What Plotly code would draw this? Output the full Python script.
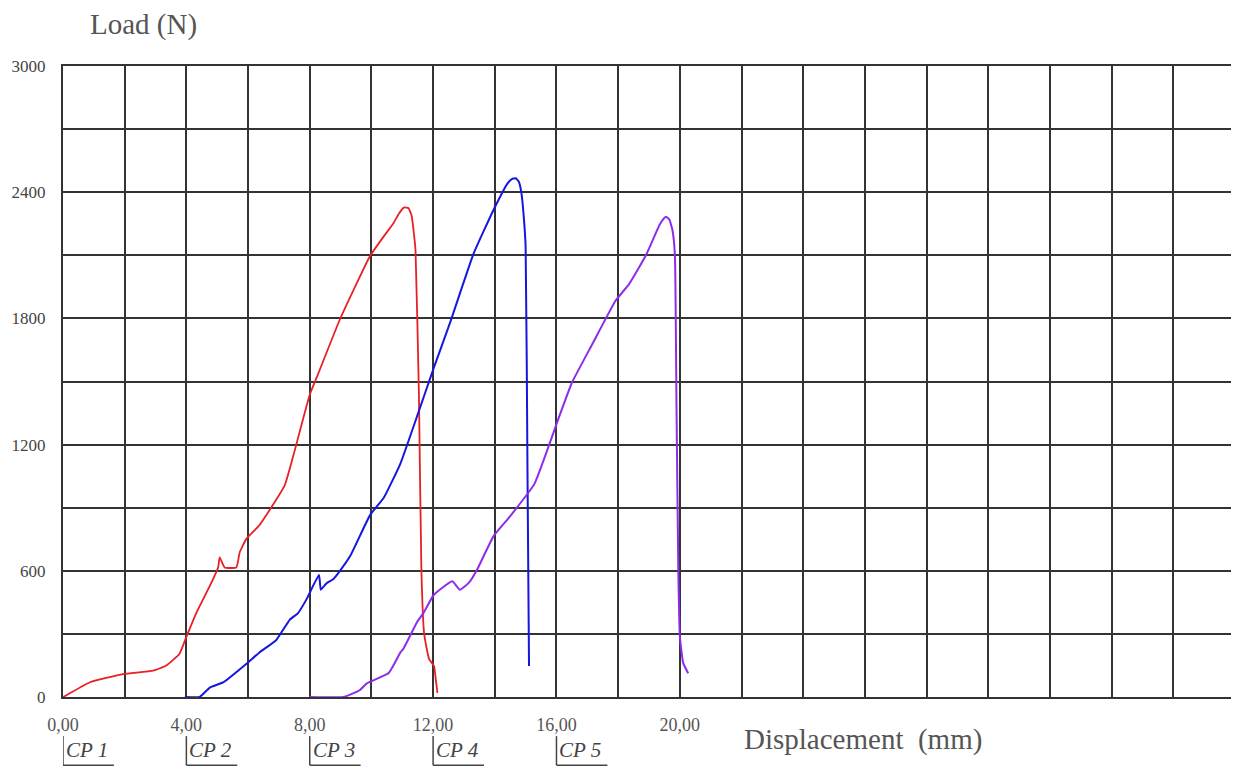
import plotly.graph_objects as go

# ---- data ----
cp1_x = [0, 0.07, 0.86, 1.95, 2.92, 3.35, 3.78, 4.0, 4.32, 4.76, 5.03, 5.08, 5.24, 5.62, 5.73, 5.95,
         6.37, 7.18, 7.46, 8.0, 8.27, 8.98, 9.96, 10.4, 10.72, 10.9, 11.05, 11.2, 11.3, 11.38, 11.43,
         11.54, 11.62, 11.71, 11.87, 12.03, 12.09, 12.14]
cp1_y = [0, 5, 69, 109, 125, 150, 206, 286, 399, 528, 616, 664, 616, 616, 688, 753,
         817, 1004, 1143, 1437, 1535, 1796, 2098, 2190, 2254, 2300, 2327, 2325, 2290, 2200, 2123,
         1437, 600, 300, 180, 147, 80, 20]

cp2_x = [3.95, 4.43, 4.76, 5.19, 5.95, 6.37, 6.91, 7.35, 7.62, 7.89, 8.30, 8.36, 8.54, 8.76, 8.98,
         9.31, 9.96, 10.40, 10.94, 11.49, 12.03, 12.55, 13.31, 13.97, 14.41, 14.55, 14.68, 14.78,
         14.86, 14.93, 15.0, 15.06, 15.11]
cp2_y = [0, 0, 45, 69, 158, 212, 270, 367, 399, 463, 580, 510, 540, 560, 600,
         670, 866, 947, 1110, 1339, 1568, 1780, 2107, 2319, 2441, 2462, 2466, 2450,
         2400, 2300, 2140, 1078, 147]

cp3_x = [8.0, 9.09, 9.62, 9.85, 10.56, 10.94, 11.04, 11.49, 11.69, 12.02, 12.62, 12.87, 13.17,
         13.42, 13.97, 14.5, 15.28, 16.07, 16.5, 17.16, 17.92, 18.36, 18.9, 19.34, 19.48, 19.56,
         19.66, 19.76, 19.84, 19.89, 19.95, 20.0, 20.11, 20.27]
cp3_y = [0, 0, 32, 65, 114, 212, 230, 359, 400, 485, 550, 510, 545,
         604, 767, 860, 1012, 1326, 1494, 1677, 1885, 1964, 2100, 2244, 2275, 2283,
         2270, 2220, 2100, 1406, 608, 289, 161, 113]

x_grid = list(range(0, 39, 2))
x_labels = {0: "0,00", 4: "4,00", 8: "8,00", 12: "12,00", 16: "16,00", 20: "20,00"}
y_grid = list(range(0, 3001, 300))
y_labels = {0: "0", 600: "600", 1200: "1200", 1800: "1800", 2400: "2400", 3000: "3000"}

cp_names = ["CP 1", "CP 2", "CP 3", "CP 4", "CP 5"]
cp_pos = [0, 4, 8, 12, 16]

series = [(cp1_x, cp1_y, "rgb(232,32,38)", 1.8),
          (cp2_x, cp2_y, "rgb(22,22,222)", 2.0),
          (cp3_x, cp3_y, "rgb(140,45,235)", 2.0)]

fig = go.Figure()
for xs, ys, col, w in series:
    fig.add_trace(go.Scatter(x=xs, y=ys, mode="lines", line=dict(color=col, width=w, shape="spline", smoothing=0.4),
                             showlegend=False, hoverinfo="skip"))

serif = "Liberation Serif, Times New Roman, serif"

fig.update_layout(
    width=1233, height=767,
    margin=dict(l=54, r=4, t=58, b=78),
    paper_bgcolor="white", plot_bgcolor="white",
    font=dict(family=serif, color="#444"),
    xaxis=dict(range=[0, 38], tickmode="array", tickvals=x_grid,
               ticktext=[x_labels.get(v, "") for v in x_grid],
               showgrid=True, gridcolor="#333", gridwidth=2,
               showline=True, linecolor="#333", linewidth=2, mirror=True,
               zeroline=False, ticks="", ticklabelstandoff=10,
               tickfont=dict(family=serif, size=18, color="#555")),
    yaxis=dict(range=[0, 3000], tickmode="array", tickvals=y_grid,
               ticktext=[y_labels.get(v, "") for v in y_grid],
               showgrid=True, gridcolor="#333", gridwidth=2,
               showline=True, linecolor="#333", linewidth=2, mirror=True,
               zeroline=False, ticks="", ticklabelstandoff=12,
               tickfont=dict(family=serif, size=17, color="#444")),
)

# axis titles
fig.add_annotation(text="Load (N)", xref="paper", yref="paper", x=0.0215, y=1.065,
                   xanchor="left", yanchor="middle", showarrow=False,
                   font=dict(family=serif, size=29, color="#555"))
fig.add_annotation(text="Displacement  (mm)", xref="paper", yref="paper", x=0.579, y=-0.068,
                   xanchor="left", yanchor="middle", showarrow=False,
                   font=dict(family=serif, size=29, color="#555"))

# CP labels with bracket
for name, p in zip(cp_names, cp_pos):
    fig.add_annotation(text="<i>" + name + "</i>", xref="x", yref="paper", x=p, y=-0.084,
                       xanchor="left", yanchor="middle", xshift=1, showarrow=False,
                       font=dict(family=serif, size=21, color="#444"))
    fig.add_shape(type="line", xref="x", yref="paper", x0=p, x1=p, y0=-0.062, y1=-0.108,
                  line=dict(color="#444", width=1.5))
    fig.add_shape(type="line", xref="x", yref="paper", x0=p, x1=p + 1.65, y0=-0.108, y1=-0.108,
                  line=dict(color="#444", width=1.5))

fig.write_html("out.html")
